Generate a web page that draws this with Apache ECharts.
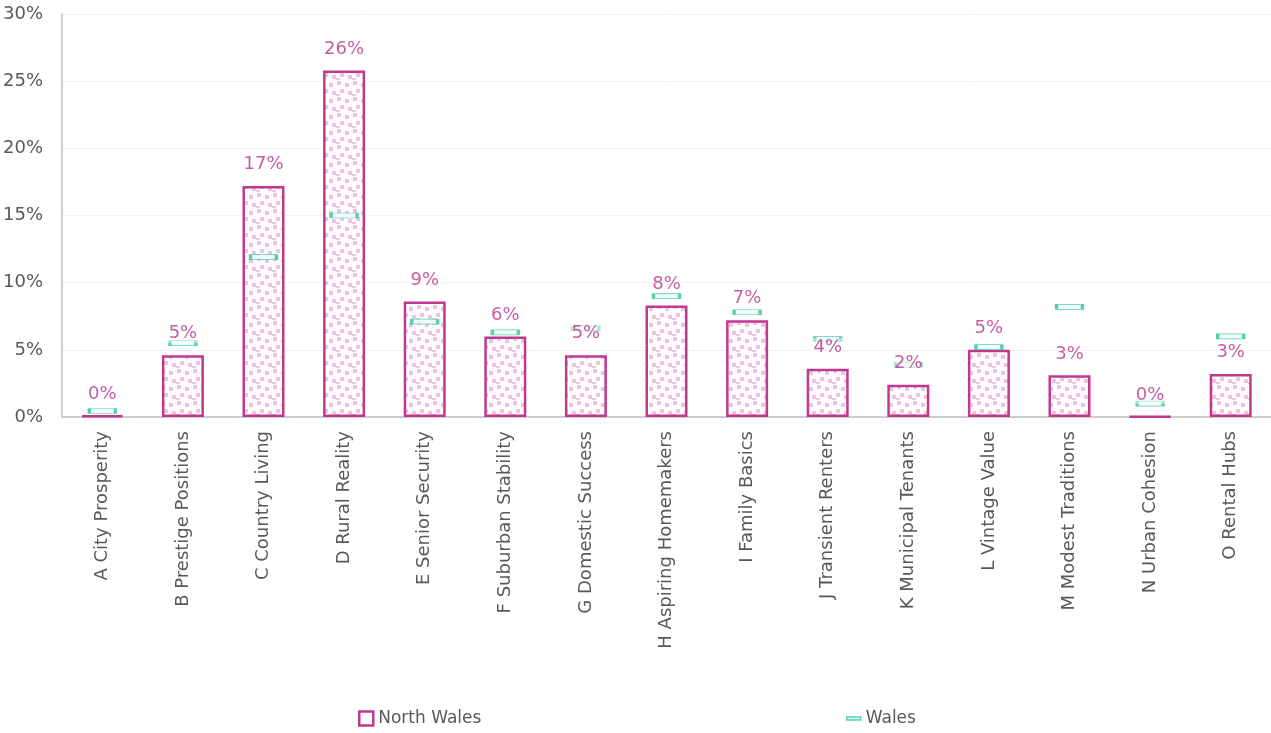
<!DOCTYPE html>
<html>
<head>
<meta charset="utf-8">
<script src="https://cdn.jsdelivr.net/npm/echarts@6/dist/echarts.min.js"></script>
<style>
    html, body { margin: 0; padding: 0; background: #fff; }
    #chart { width: 1271px; height: 733px; }
</style>
</head>
<body>
<div id="chart"></div>
<script>
    // categories + values (percent)
    var categories = [
        'A City Prosperity', 'B Prestige Positions', 'C Country Living', 'D Rural Reality',
        'E Senior Security', 'F Suburban Stability', 'G Domestic Success', 'H Aspiring Homemakers',
        'I Family Basics', 'J Transient Renters', 'K Municipal Tenants', 'L Vintage Value',
        'M Modest Traditions', 'N Urban Cohesion', 'O Rental Hubs'
    ];
    var northWales = [0.1, 4.6, 17.2, 25.8, 8.6, 6.0, 4.6, 8.3, 7.2, 3.6, 2.4, 5.0, 3.1, 0.05, 3.2];
    var wales = [0.45, 5.5, 11.9, 15.0, 7.1, 6.3, 6.6, 9.0, 7.8, 5.8, 3.9, 5.2, 8.2, 1.0, 6.0];
    var yTicks = [0, 5, 10, 15, 20, 25, 30];

    var pink = '#c0398f';
    var teal = '#2ec4a0';
    var grey = '#595959';
    var font = 'DejaVu Sans';

    // dotted fill like the excel pattern
    function makePattern() {
        var c = document.createElement('canvas');
        c.width = 16; c.height = 16;
        var ctx = c.getContext('2d');
        ctx.fillStyle = '#ffffff';
        ctx.fillRect(0, 0, 16, 16);
        ctx.fillStyle = '#efc2df';
        var dots = [[1, 1], [9, 3], [4, 9], [12, 11], [0, 14]];
        dots.forEach(function (d) { ctx.fillRect(d[0], d[1], 4, 4); });
        return c;
    }

    var legendText = { color: grey, fontSize: 17, fontFamily: font };

    var chart = echarts.init(document.getElementById('chart'));
    var option = {
        animation: false,
        textStyle: { fontFamily: font },
        grid: { left: 61, right: 0, top: 14, bottom: 316 },
        legend: [
            {
                left: 358,
                top: 710,
                padding: 0,
                itemWidth: 14,
                itemHeight: 14,
                textStyle: legendText,
                data: [{ name: 'North Wales', icon: 'rect', itemStyle: { color: '#fff', borderColor: pink, borderWidth: 2.5 } }]
            },
            {
                left: 846,
                top: 710,
                padding: 0,
                itemWidth: 14,
                itemHeight: 14,
                textStyle: legendText,
                data: [{ name: 'Wales', icon: 'path://M0,0 L26,0 L26,6 L0,6 Z', itemStyle: { color: '#e6f8f2', borderColor: teal, borderWidth: 1.5 } }]
            }
        ],
        xAxis: {
            type: 'category',
            data: categories,
            axisLine: { lineStyle: { color: '#bfbfbf', width: 1.5 } },
            axisTick: { show: false },
            axisLabel: {
                rotate: 90,
                interval: 0,
                margin: 14,
                color: grey,
                fontSize: 18,
                fontFamily: font
            }
        },
        yAxis: {
            type: 'value',
            min: 0,
            max: yTicks[yTicks.length - 1],
            interval: 5,
            axisLine: { show: true, lineStyle: { color: '#bfbfbf', width: 1.5 } },
            axisTick: { show: false },
            splitLine: { lineStyle: { color: '#f0f0f0' } },
            axisLabel: {
                color: grey,
                fontSize: 18,
                margin: 19,
                fontFamily: font,
                formatter: '{value}%'
            }
        },
        series: [
            {
                name: 'North Wales',
                type: 'bar',
                data: northWales,
                barWidth: 42,
                z: 2,
                itemStyle: {
                    color: { image: makePattern(), repeat: 'repeat' },
                    borderColor: pink,
                    borderWidth: 2.5
                }
            },
            {
                name: 'Wales',
                type: 'scatter',
                data: wales,
                symbol: 'rect',
                symbolSize: [26, 5],
                z: 3,
                itemStyle: { color: '#eefaf6', borderColor: teal, borderWidth: 1.5 }
            },
            {
                // value labels for North Wales, drawn above the Wales markers
                name: 'nwLabels',
                type: 'scatter',
                data: northWales,
                symbolSize: 1,
                itemStyle: { color: 'rgba(0,0,0,0)' },
                z: 4,
                silent: true,
                label: {
                    show: true,
                    position: 'top',
                    distance: 12,
                    color: '#b8338a',
                    fontSize: 18,
                    fontFamily: font,
                    backgroundColor: 'rgba(255,255,255,0.6)',
                    padding: [0, 1],
                    formatter: function (p) { return Math.round(p.value) + '%'; }
                }
            }
        ]
    };
    chart.setOption(option);
    window.addEventListener('resize', function () {
        chart.resize();
    });
</script>
</body>
</html>
